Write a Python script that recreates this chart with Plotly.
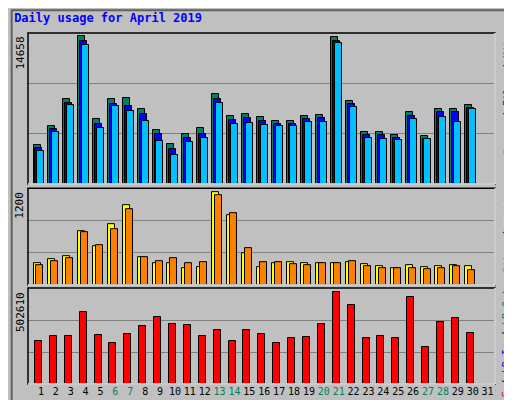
import plotly.graph_objects as go

days = list(range(1, 31))
all_days = list(range(1, 32))
weekend = [6, 7, 13, 14, 20, 21, 27, 28]
hits = [3890, 5780, 8370, 14658, 6480, 8370, 8470, 7380, 5380, 3990, 4985, 5580, 8870, 6780, 6980,
        6680, 6280, 6280, 6780, 6880, 14600, 8180, 5180, 5180, 4885, 7080, 4785, 7380, 7380, 7780]
files = [3590, 5480, 8070, 14200, 5980, 7970, 7680, 6980, 4990, 3490, 4590, 4990, 8370, 6380, 6580,
         6280, 5980, 5980, 6480, 6580, 14200, 7880, 4890, 4890, 4590, 6780, 4490, 7080, 7080, 7480]
pages = [3290, 5180, 7780, 13760, 5580, 7680, 7180, 6280, 4290, 2890, 4190, 4590, 7980, 5980, 6080,
         5880, 5780, 5780, 6180, 6180, 13960, 7580, 4590, 4490, 4390, 6480, 4490, 6680, 6180, 7380]
visits = [284, 335, 374, 697, 503, 787, 1032, 361, 284, 284, 219, 232, 1200, 903, 413,
          232, 284, 297, 284, 284, 284, 297, 271, 245, 219, 258, 232, 245, 258, 245]
sites = [258, 310, 348, 684, 516, 722, 980, 361, 310, 348, 284, 297, 1161, 929, 477,
         297, 297, 271, 258, 284, 284, 310, 245, 219, 219, 219, 206, 219, 245, 193]
kbytes = [235000, 262000, 262000, 393000, 268000, 224000, 273000, 317000, 366000, 328000, 322000,
          262000, 295000, 235000, 295000, 273000, 224000, 251000, 257000, 328000, 502610, 432000,
          251000, 262000, 251000, 475000, 202000, 339000, 361000, 279000]

C_HITS, C_FILES, C_PAGES = "#00805c", "#0000ff", "#00c0ff"
C_VIS, C_SITES, C_KB = "#ffff00", "#ff8000", "#ff0000"

fig = go.Figure()
W = 0.47
def bars(y, color, off, ya):
    fig.add_trace(go.Bar(x=days, y=y, offset=off, width=W, marker=dict(color=color, line=dict(color="black", width=1)),
                         yaxis=ya, xaxis="x", showlegend=False))

bars(hits, C_HITS, -0.50, "y")
bars(files, C_FILES, -0.37, "y")
bars(pages, C_PAGES, -0.24, "y")
bars(visits, C_VIS, -0.50, "y2")
bars(sites, C_SITES, -0.30, "y2")
bars(kbytes, C_KB, -0.40, "y3")

ticktext = [f'<span style="color:{C_HITS}">{d}</span>' if d in weekend else str(d) for d in all_days]
grid = dict(showgrid=True, gridcolor="#808080", gridwidth=1, showticklabels=False, zeroline=False,
            ticks="", showline=False, fixedrange=True)
R1, R2, R3 = 14658 * 150 / 147, 1200 * 97 / 93, 502610 * 96 / 92
fig.update_layout(
    width=512, height=400, margin=dict(l=20, r=25, t=25, b=24, autoexpand=False),
    paper_bgcolor="#c0c0c0", plot_bgcolor="#c0c0c0", barmode="overlay", bargap=0,
    font=dict(family="DejaVu Sans Mono", size=11, color="black"),
    xaxis=dict(range=[0.13, 31.5], tickvals=all_days, ticktext=ticktext, showgrid=False, ticks="",
               tickangle=0, automargin=False,
               tickfont=dict(family="DejaVu Sans Mono", size=10), zeroline=False, anchor="y3"),
    yaxis=dict(domain=[0.570, 1], range=[0, R1], tickvals=[R1 / 3, 2 * R1 / 3], **grid),
    yaxis2=dict(domain=[0.282, 0.558], range=[0, R2], tickvals=[R2 / 3, 2 * R2 / 3], **grid),
    yaxis3=dict(domain=[0, 0.2735], range=[0, R3], tickvals=[R3 / 3, 2 * R3 / 3], **grid),
    title=dict(text="<b>Daily usage for April 2019</b>", x=0.012, y=0.985, xanchor="left", yanchor="top",
               font=dict(family="DejaVu Sans Mono", size=12, color="#0000ff")),
)

shapes = [dict(type="rect", xref="paper", yref="paper", x0=-0.035, x1=1.05, y0=-0.065, y1=1.065,
               line=dict(color="#606060", width=2))]
for y0, y1 in [(0.570, 1), (0.282, 0.558), (0, 0.2735)]:
    shapes.append(dict(type="rect", xref="paper", yref="paper", x0=0, x1=1, y0=y0, y1=y1,
                       line=dict(color="black", width=1.5)))
    shapes.append(dict(type="line", xref="paper", yref="paper", x0=0, x1=1, y0=y0, y1=y0,
                       line=dict(color="white", width=1.5)))
    shapes.append(dict(type="line", xref="paper", yref="paper", x0=1, x1=1, y0=y0, y1=y1,
                       line=dict(color="white", width=1.5)))
fig.update_layout(shapes=shapes)

ann = []
for y, txt in [(1, "14658"), (0.558, "1200"), (0.2735, "502610")]:
    ann.append(dict(xref="paper", yref="paper", x=0, xshift=-8, y=y, yshift=-3, text=txt, textangle=-90,
                    showarrow=False, xanchor="center", yanchor="top", borderpad=0,
                    font=dict(family="DejaVu Sans Mono", size=11, color="black")))
sep = '<span style="color:black">/</span>'
labels = [
    (1, f'<span style="color:{C_PAGES}">Pages</span> {sep} <span style="color:{C_FILES}">Files</span> {sep} <span style="color:{C_HITS}">Hits</span>'),
    (0.558, f'<span style="color:{C_SITES}">Sites</span> {sep} <span style="color:{C_VIS}">Visits</span>'),
    (0.2735, f'<span style="color:{C_KB}">kB F</span> {sep} <span style="color:{C_FILES}">kB In</span> {sep} <span style="color:{C_HITS}">kB Out</span>'),
]
for y, txt in labels:
    ann.append(dict(xref="paper", yref="paper", x=1, xshift=12, y=y, text=txt, textangle=-90, showarrow=False,
                    xanchor="center", yanchor="top", borderpad=0, font=dict(family="DejaVu Sans Mono", size=10)))
fig.update_layout(annotations=ann)
fig.write_html("out.html")
